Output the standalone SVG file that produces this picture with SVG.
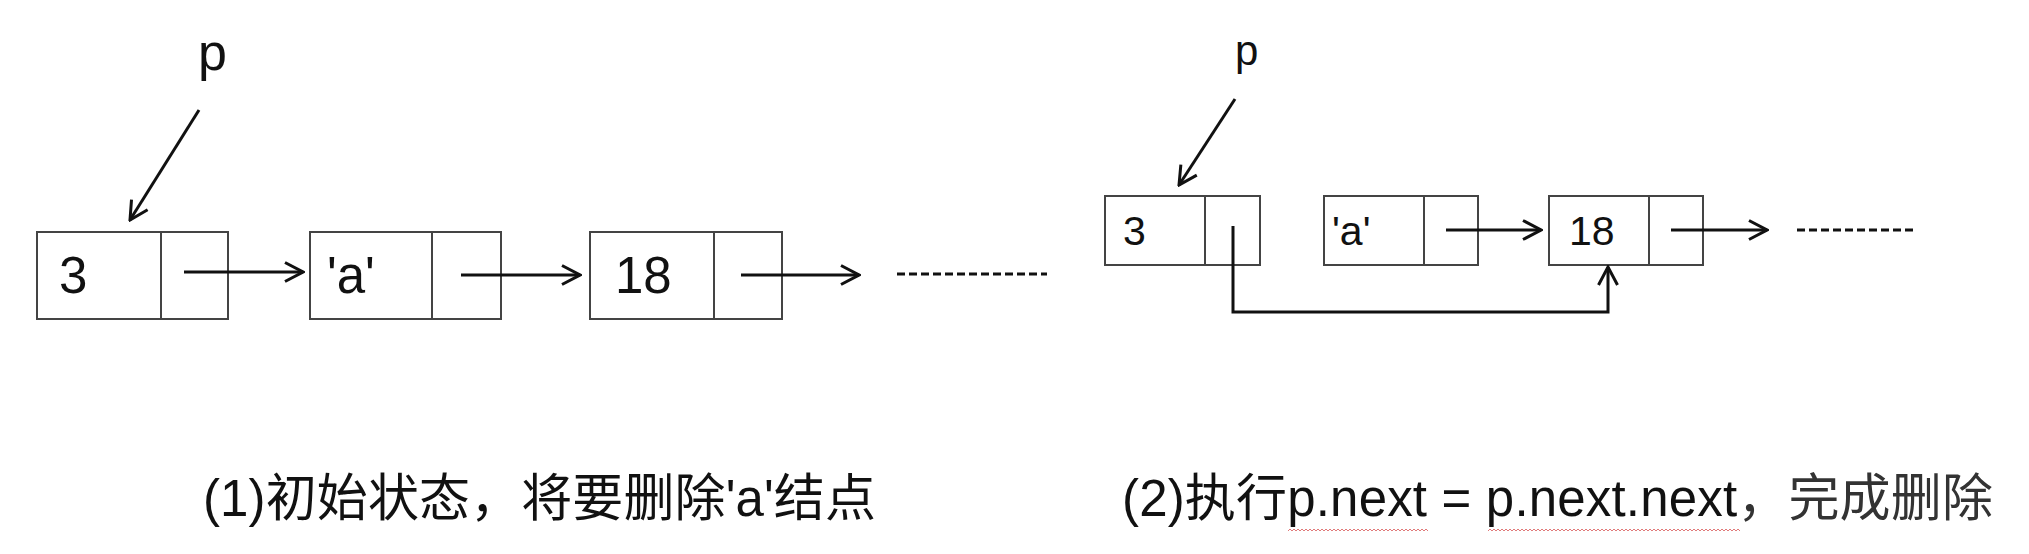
<svg xmlns="http://www.w3.org/2000/svg" width="2029" height="554" viewBox="0 0 2029 554">
<style>
.box{fill:none;stroke:#444;stroke-width:2}
.lbl{font-family:"Liberation Sans",Arial,sans-serif;fill:#111}
.big{font-size:51px}
.mid{font-size:41px}
.con{fill:none;stroke:#111;stroke-width:3}
.dash{fill:none;stroke:#111;stroke-width:3;stroke-dasharray:8 4}
.cap{font-family:"Liberation Sans","Noto Sans CJK SC",sans-serif;font-size:51px;fill:#111}
.song{fill:#333}
</style>
<defs>
<marker id="arr" markerUnits="userSpaceOnUse" viewBox="0 0 22 22" refX="20" refY="11" markerWidth="22" markerHeight="22" orient="auto">
<path d="M2,1.5 L20,11 L2,20.5" fill="none" stroke="#111" stroke-width="3"/>
</marker>
<pattern id="squig" width="4" height="4" patternUnits="userSpaceOnUse">
<path d="M0,3 L2,1 L4,3" fill="none" stroke="#e07a7a" stroke-width="1"/>
</pattern>
</defs>
<rect width="2029" height="554" fill="#fff"/>

<g id="left-p"><text class="lbl" x="198" y="70" font-size="52">p</text></g>
<g id="left-n1"><rect class="box" x="37" y="232" width="191" height="87"/><line class="box" x1="161" y1="232" x2="161" y2="319"/><text class="lbl big" x="59" y="293">3</text></g>
<g id="left-n2"><rect class="box" x="310" y="232" width="191" height="87"/><line class="box" x1="432" y1="232" x2="432" y2="319"/><text class="lbl big" x="327" y="293">'a'</text></g>
<g id="left-n3"><rect class="box" x="590" y="232" width="192" height="87"/><line class="box" x1="714" y1="232" x2="714" y2="319"/><text class="lbl big" x="615" y="293">18</text></g>

<g id="right-p"><text class="lbl" x="1235" y="65" font-size="42">p</text></g>
<g id="right-n1"><rect class="box" x="1105" y="196" width="155" height="69"/><line class="box" x1="1205" y1="196" x2="1205" y2="265"/><text class="lbl mid" x="1123" y="245">3</text></g>
<g id="right-n2"><rect class="box" x="1324" y="196" width="154" height="69"/><line class="box" x1="1424" y1="196" x2="1424" y2="265"/><text class="lbl mid" x="1332" y="245">'a'</text></g>
<g id="right-n3"><rect class="box" x="1549" y="196" width="154" height="69"/><line class="box" x1="1649" y1="196" x2="1649" y2="265"/><text class="lbl mid" x="1569" y="245">18</text></g>

<g id="connectors">
<line class="con" x1="199" y1="110" x2="130" y2="220" marker-end="url(#arr)"/>
<line class="con" x1="184" y1="272" x2="303" y2="272" marker-end="url(#arr)"/>
<line class="con" x1="461" y1="275" x2="580" y2="275" marker-end="url(#arr)"/>
<line class="con" x1="741" y1="275" x2="859" y2="275" marker-end="url(#arr)"/>
<line class="dash" x1="897" y1="274" x2="1047" y2="274"/>
<line class="con" x1="1235" y1="99" x2="1179" y2="185" marker-end="url(#arr)"/>
<line class="con" x1="1446" y1="230" x2="1541" y2="230" marker-end="url(#arr)"/>
<line class="con" x1="1671" y1="230" x2="1767" y2="230" marker-end="url(#arr)"/>
<line class="dash" x1="1797" y1="230" x2="1916" y2="230"/>
<path class="con" d="M1233,226 V312 H1608 V267" marker-end="url(#arr)"/>
</g>

<g id="captions">
<text class="cap" x="203" y="516" textLength="673" lengthAdjust="spacing">(1)初始状态，将要删除'a'结点</text>
<text class="cap" x="1122" y="516" textLength="871" lengthAdjust="spacing">(2)执行p.next = p.next.next<tspan class="song">，完成删除</tspan></text>
<rect x="1288" y="527" width="140" height="4" fill="url(#squig)"/>
<rect x="1488" y="527" width="252" height="4" fill="url(#squig)"/>
</g>
</svg>
